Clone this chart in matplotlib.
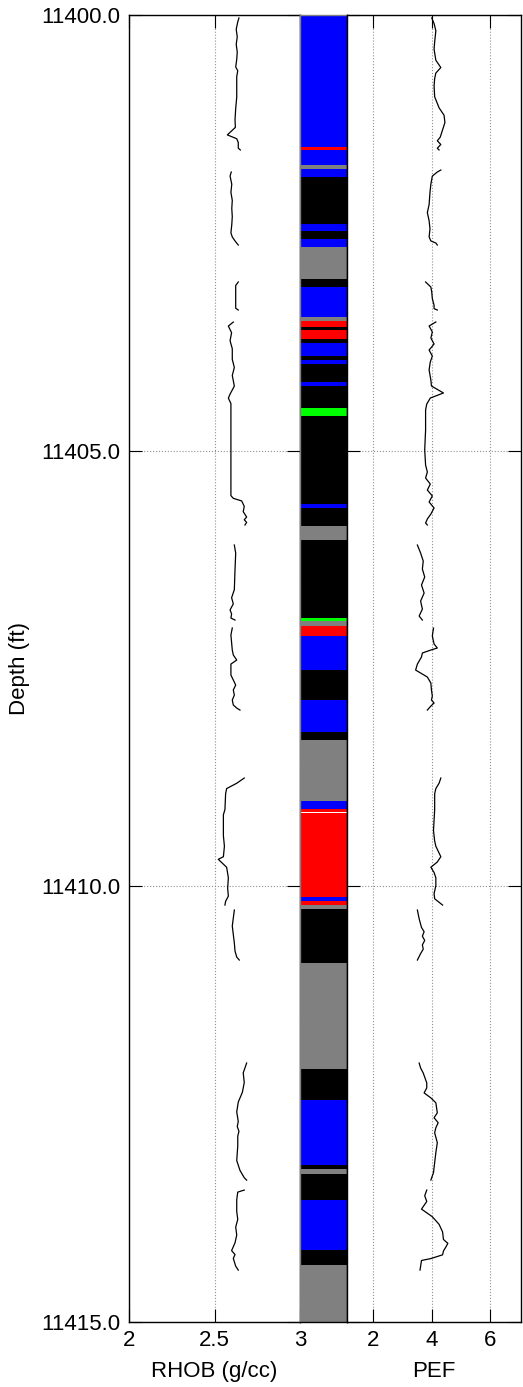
import numpy as np
import matplotlib
matplotlib.use("Agg")
import matplotlib.pyplot as plt

plt.rcParams['font.family'] = ['Liberation Sans', 'DejaVu Sans']

# ---------------- data ----------------
top_depth = 11400.0
base_depth = 11415.0
depth_ticks = [11400.0, 11405.0, 11410.0, 11415.0]

# facies column: interval tops (ft below 11400) and facies class
facies_tops = [0.000, 1.512, 1.546, 1.722, 1.767, 1.859, 2.399, 2.479, 2.571, 2.663,
               3.030, 3.122, 3.466, 3.512, 3.581, 3.615, 3.719, 3.765, 3.914, 3.960,
               4.006, 4.212, 4.258, 4.511, 4.602, 5.612, 5.658, 5.865, 6.026, 6.921,
               6.955, 7.013, 7.127, 7.517, 7.862, 8.229, 8.321, 9.021, 9.113, 9.150,
               9.162, 10.123, 10.169, 10.215, 10.261, 10.880, 12.096, 12.453, 13.199,
               13.245, 13.302, 13.600, 14.174, 14.347]
facies_bases = facies_tops[1:] + [15.0]
facies_class = ['blue', 'red', 'blue', 'gray', 'blue', 'black', 'blue', 'black', 'blue', 'gray',
                'black', 'blue', 'gray', 'red', 'black', 'red', 'black', 'blue', 'black', 'blue',
                'black', 'blue', 'black', 'green', 'black', 'blue', 'black', 'gray', 'black', 'green',
                'gray', 'red', 'blue', 'black', 'blue', 'black', 'gray', 'blue', 'red', 'white',
                'red', 'blue', 'red', 'gray', 'black', 'gray', 'black', 'blue', 'black',
                'gray', 'black', 'blue', 'black', 'gray']
facies_colors = {'blue': '#0000ff', 'red': '#ff0000', 'gray': '#808080',
                 'black': '#000000', 'green': '#00ff00', 'white': '#ffffff'}

# RHOB (g/cc); depth in ft below 11400; nan = gap between logged intervals
rhob_depth = [0.034, 0.078, 0.164, 0.251, 0.337, 0.424, 0.511, 0.597, 0.640, 0.706,
              0.814, 0.943, 1.073, 1.203, 1.290, 1.376, 1.420, 1.463, 1.528, 1.549, np.nan,
              1.802, 1.848, 1.942, 2.035, 2.128, 2.221, 2.314, 2.407, 2.500, 2.547, 2.593, 2.640, np.nan,
              3.064, 3.104, 3.245, 3.366, 3.386, np.nan,
              3.524, 3.570, 3.646, 3.738, 3.830, 3.953, 4.045, 4.137, 4.259, 4.351, 4.397, 4.459,
              4.566, 5.516, 5.547, 5.577, 5.639, 5.700, 5.762, 5.793, 5.823, 5.853, np.nan,
              6.083, 6.176, 6.362, 6.595, 6.688, 6.758, 6.828, 6.874, 6.921, 6.944, np.nan,
              7.035, 7.116, 7.196, 7.288, 7.345, 7.403, 7.449, 7.575, 7.632, 7.690, 7.747, 7.805,
              7.862, 7.919, 7.954, 7.977, np.nan,
              8.757, 8.817, 8.878, 8.937, 9.119, 9.178, 9.419, 9.540, 9.660, 9.690, 9.781, 9.901,
              10.022, 10.113, 10.172, 10.215, np.nan,
              10.272, 10.364, 10.456, 10.559, 10.651, 10.743, 10.812, 10.846, np.nan,
              12.028, 12.084, 12.141, 12.252, 12.364, 12.476, 12.588, 12.700, 12.756, 12.812,
              12.867, 12.980, 13.147, 13.260, 13.344, 13.372, np.nan,
              13.486, 13.509, 13.598, 13.733, 13.822, 13.911, 14.002, 14.091, 14.181, 14.226,
              14.270, 14.360, 14.404]
rhob_vals = [2.643, 2.636, 2.627, 2.633, 2.627, 2.633, 2.630, 2.624, 2.636, 2.630,
             2.630, 2.630, 2.624, 2.620, 2.622, 2.575, 2.630, 2.639, 2.639, 2.651, np.nan,
             2.598, 2.591, 2.601, 2.596, 2.604, 2.601, 2.604, 2.601, 2.596, 2.604, 2.620, 2.639, np.nan,
             2.639, 2.624, 2.624, 2.624, 2.639, np.nan,
             2.610, 2.581, 2.600, 2.591, 2.604, 2.604, 2.616, 2.604, 2.616, 2.591, 2.581, 2.596,
             2.596, 2.596, 2.610, 2.659, 2.674, 2.668, 2.688, 2.674, 2.688, 2.678, np.nan,
             2.616, 2.624, 2.620, 2.616, 2.600, 2.610, 2.591, 2.600, 2.596, 2.620, np.nan,
             2.604, 2.596, 2.600, 2.604, 2.610, 2.630, 2.596, 2.596, 2.610, 2.624, 2.610, 2.616,
             2.604, 2.610, 2.630, 2.649, np.nan,
             2.674, 2.630, 2.571, 2.565, 2.561, 2.552, 2.552, 2.558, 2.552, 2.522, 2.571, 2.581,
             2.577, 2.581, 2.565, 2.561, np.nan,
             2.616, 2.610, 2.604, 2.610, 2.616, 2.620, 2.630, 2.645, np.nan,
             2.688, 2.678, 2.668, 2.674, 2.663, 2.639, 2.630, 2.639, 2.633, 2.643,
             2.636, 2.636, 2.630, 2.649, 2.674, 2.688, np.nan,
             2.674, 2.636, 2.630, 2.630, 2.636, 2.624, 2.630, 2.620, 2.600, 2.620,
             2.610, 2.624, 2.639]

# PEF; depth in ft below 11400; nan = gap between logged intervals
pef_depth = [0.034, 0.098, 0.181, 0.308, 0.393, 0.519, 0.603, 0.666, 0.729, 0.813, 0.939,
             1.065, 1.150, 1.234, 1.318, 1.402, 1.444, 1.486, 1.529, 1.549, np.nan,
             1.779, 1.802, 1.849, 1.942, 2.035, 2.175, 2.268, 2.361, 2.454, 2.547, 2.593, 2.617,
             2.640, np.nan,
             3.064, 3.122, 3.179, 3.255, 3.332, 3.370, 3.386, np.nan,
             3.523, 3.569, 3.638, 3.707, 3.776, 3.845, 3.914, 3.983, 4.074, 4.189, 4.258, 4.338,
             4.396, 4.465, 4.534, 4.763, 4.993, 5.165, 5.245, 5.314, 5.383, 5.452, 5.520, 5.589,
             5.658, 5.727, 5.784, 5.830, 5.853, np.nan,
             6.083, 6.175, 6.267, 6.358, 6.450, 6.542, 6.634, 6.726, 6.818, 6.898, 6.944, np.nan,
             7.036, 7.127, 7.219, 7.265, 7.288, 7.322, 7.368, 7.449, 7.518, 7.552, 7.598, 7.667,
             7.747, 7.816, 7.862, 7.896, 7.931, 7.977, np.nan,
             8.757, 8.817, 8.878, 8.937, 9.119, 9.239, 9.360, 9.480, 9.540, 9.660, 9.721, 9.781,
             9.842, 9.901, 9.992, 10.083, 10.143, 10.215, np.nan,
             10.272, 10.372, 10.472, 10.521, 10.572, 10.621, 10.672, 10.721, 10.772, 10.846, np.nan,
             12.028, 12.085, 12.143, 12.256, 12.313, 12.371, 12.428, 12.484, 12.599, 12.656,
             12.713, 12.770, 12.828, 12.943, 13.056, 13.171, 13.285, 13.371, np.nan,
             13.486, 13.551, 13.617, 13.660, 13.704, 13.792, 13.879, 13.966, 14.053, 14.097,
             14.141, 14.185, 14.229, 14.272, 14.294, 14.360, 14.404]
pef_vals = [4.00, 4.08, 4.14, 4.10, 4.08, 4.14, 4.31, 4.14, 4.10, 4.08, 4.10,
            4.25, 4.42, 4.45, 4.37, 4.29, 4.19, 4.31, 4.19, 4.25, np.nan,
            4.31, 4.19, 4.02, 3.97, 3.94, 3.91, 3.85, 3.91, 3.94, 3.91, 3.97, 4.14,
            4.19, np.nan,
            3.79, 3.97, 4.00, 4.02, 4.08, 4.08, 4.19, np.nan,
            4.14, 3.91, 4.02, 3.97, 4.08, 3.91, 4.02, 3.95, 3.91, 3.97, 3.99, 4.40,
            3.95, 3.83, 3.79, 3.79, 3.76, 3.79, 3.85, 3.79, 3.95, 3.85, 4.02, 3.91,
            4.08, 3.97, 3.85, 3.79, 3.85, np.nan,
            3.51, 3.62, 3.71, 3.68, 3.76, 3.65, 3.74, 3.62, 3.68, 3.57, 3.68, np.nan,
            4.06, 4.02, 4.08, 4.19, 3.97, 3.68, 3.65, 3.51, 3.45, 3.62, 3.85, 3.97,
            3.99, 4.02, 3.99, 4.08, 3.97, 3.85, np.nan,
            4.31, 4.25, 4.14, 4.10, 4.10, 4.08, 4.06, 4.10, 4.14, 4.31, 4.19, 3.97,
            4.08, 4.14, 4.14, 4.08, 4.10, 4.37, np.nan,
            3.51, 3.57, 3.65, 3.74, 3.68, 3.76, 3.68, 3.71, 3.62, 3.51, np.nan,
            3.57, 3.62, 3.71, 3.83, 3.83, 3.74, 3.97, 4.14, 4.19, 4.08,
            4.22, 4.14, 4.10, 4.19, 4.14, 4.10, 4.06, 3.97, np.nan,
            3.83, 3.76, 3.83, 3.74, 3.65, 4.02, 4.25, 4.37, 4.40, 4.55,
            4.48, 4.40, 4.37, 3.97, 3.65, 3.62, 3.60]

rhob_label = 'RHOB (g/cc)'
pef_label = 'PEF'
depth_label = 'Depth (ft)'

# ---------------- figure ----------------
W, H = 523, 1387
fig = plt.figure(figsize=(W / 100, H / 100), dpi=100)

def frac(x0, x1, y0=15, y1=1322):
    return [x0 / W, 1 - y1 / H, (x1 - x0) / W, (y1 - y0) / H]

ax1 = fig.add_axes(frac(129, 300))
axf = fig.add_axes(frac(300, 346.5))
ax2 = fig.add_axes(frac(346.5, 520.5))

rd = top_depth + np.array(rhob_depth)
pd_ = top_depth + np.array(pef_depth)

grid_kw = dict(color='#909090', linestyle=':', linewidth=0.8)
fs = 16

for ax in (ax1, ax2):
    ax.set_ylim(base_depth, top_depth)
    ax.set_yticks(depth_ticks)
    ax.grid(True, **grid_kw)
    ax.tick_params(direction='in', length=9.5, width=0.8, top=True, right=True,
                   labelsize=fs, pad=6)
    for s in ax.spines.values():
        s.set_linewidth(1.0)

ax1.plot(np.array(rhob_vals), rd, color='black', linewidth=0.9)
ax1.set_xlim(2, 3)
ax1.set_xticks([2, 2.5, 3])
ax1.set_xticklabels(['2', '2.5', '3'])
ax1.set_yticklabels([f'{d:.1f}' for d in depth_ticks])
ax1.set_xlabel(rhob_label, fontsize=fs, labelpad=7)
ax1.set_ylabel(depth_label, fontsize=fs, labelpad=8)

ax2.plot(np.array(pef_vals), pd_, color='black', linewidth=0.9)
ax2.set_xlim(1.09, 7.03)
ax2.set_xticks([2, 4, 6])
ax2.set_yticklabels([])
ax2.set_xlabel(pef_label, fontsize=fs, labelpad=7)

# facies column
for t, b, c in zip(facies_tops, facies_bases, facies_class):
    axf.axhspan(top_depth + t, top_depth + b, color=facies_colors[c], linewidth=0)
axf.set_ylim(base_depth, top_depth)
axf.set_xlim(0, 1)
axf.set_xticks([])
axf.set_yticks([])
for s in axf.spines.values():
    s.set_linewidth(1.0)
axf.spines['left'].set_color('#808080')
axf.spines['top'].set_color('#808080')

fig.savefig('out.png', dpi=100)
